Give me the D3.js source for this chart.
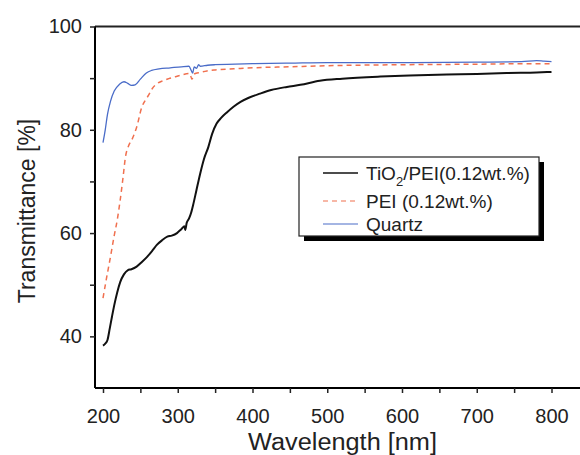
<!DOCTYPE html>
<html>
<head>
<meta charset="utf-8">
<script src="https://cdn.jsdelivr.net/npm/d3@7"></script>
<style>
  body { margin: 0; background: #fff; }
  text { font-family: "Liberation Sans", Arial, sans-serif; }
</style>
</head>
<body>
<script>
// wavelength [nm] / transmittance [%]
var tioWl = [200, 203, 206, 209, 212, 215, 219, 223, 228, 233, 238, 245, 252, 259, 266, 272, 279, 286, 292, 299, 305, 309, 310, 312, 315, 318, 321, 325, 330, 335, 341, 346, 352, 358, 366, 375, 384, 395, 410, 425, 446, 464, 490, 520, 571, 610, 660, 700, 740, 780, 800];
var tioT = [38.2, 38.6, 39.3, 41.5, 43.8, 46.0, 48.5, 50.5, 52.0, 52.8, 53.0, 53.5, 54.4, 55.4, 56.6, 57.7, 58.6, 59.3, 59.5, 60.0, 60.8, 61.3, 60.6, 62.0, 62.8, 64.0, 65.7, 68.3, 71.5, 74.3, 76.7, 79.2, 81.2, 82.3, 83.4, 84.5, 85.4, 86.2, 87.0, 87.7, 88.3, 88.7, 89.5, 89.9, 90.3, 90.5, 90.7, 90.8, 91.0, 91.1, 91.2];

var peiWl = [200, 205, 210, 215, 219, 223, 227, 230, 234, 239, 245, 252, 257, 261, 266, 272, 280, 288, 295, 305, 316, 319, 322, 330, 339, 350, 375, 400, 450, 500, 600, 700, 760, 800];
var peiT = [47.4, 51.5, 55.4, 59.5, 62.5, 66.4, 71.0, 74.7, 76.8, 78.2, 80.5, 84.4, 85.8, 86.7, 88.0, 88.9, 89.5, 89.9, 90.2, 90.6, 90.9, 89.8, 90.8, 91.1, 91.4, 91.6, 91.8, 92.0, 92.2, 92.4, 92.6, 92.7, 92.8, 92.8];

var quartzWl = [200, 203, 206, 210, 215, 222, 228, 233, 238, 243, 250, 258, 265, 275, 290, 305, 315, 318, 320, 322, 325, 328, 330, 340, 350, 400, 450, 500, 600, 700, 760, 780, 790, 800];
var quartzT = [77.5, 80.0, 83.0, 85.5, 87.5, 88.8, 89.3, 89.0, 88.6, 88.7, 89.8, 91.0, 91.5, 91.8, 92.0, 92.2, 92.3, 91.5, 91.0, 92.2, 91.9, 92.6, 92.3, 92.5, 92.6, 92.8, 92.9, 93.0, 93.0, 93.1, 93.2, 93.4, 93.3, 93.2];

var seriesNames = ["TiO2/PEI(0.12wt.%)", "PEI (0.12wt.%)", "Quartz"];
var xTicks = [200, 300, 400, 500, 600, 700, 800];
var yTicks = [40, 60, 80, 100];

var width = 580, height = 455;

var svg = d3.select("body").append("svg")
  .attr("width", width)
  .attr("height", height);

var x = d3.scaleLinear().domain([200, 800]).range([103, 551.5]);
var y = d3.scaleLinear().domain([30, 100]).range([388, 26.5]);

var series = [
  { wl: tioWl, t: tioT, color: "#111", w: 2, dash: null },
  { wl: peiWl, t: peiT, color: "#f0704f", w: 1.5, dash: "5,4" },
  { wl: quartzWl, t: quartzT, color: "#4a6cc8", w: 1.3, dash: null }
];

var line = d3.line()
  .x((d) => x(d[0]))
  .y((d) => y(d[1]))
  .curve(d3.curveMonotoneX);

// plot frame: top line
svg.append("line")
  .attr("x1", 95).attr("x2", width)
  .attr("y1", y(100)).attr("y2", y(100))
  .attr("stroke", "#222").attr("stroke-width", 2);

// draw in reverse so black is on top
series.slice().reverse().forEach((s) => {
  svg.append("path")
    .datum(s.wl.map((w, i) => [w, s.t[i]]))
    .attr("d", line)
    .attr("fill", "none")
    .attr("stroke", s.color)
    .attr("stroke-width", s.w)
    .attr("stroke-dasharray", s.dash);
});

// axes
var xAxis = svg.append("g")
  .attr("transform", "translate(0," + y(30) + ")")
  .call(d3.axisBottom(x).tickValues(d3.range(200, 851, 50)).tickSize(5).tickPadding(16)
    .tickFormat((d) => xTicks.includes(d) ? d : ""));
xAxis.select(".domain").attr("d", "M95,0H" + width).attr("stroke-width", 2);

var yAxis = svg.append("g")
  .attr("transform", "translate(95,0)")
  .call(d3.axisLeft(y).tickValues(d3.range(40, 101, 10)).tickSize(5).tickPadding(8)
    .tickFormat((d) => yTicks.includes(d) ? d : ""));
yAxis.select(".domain").attr("d", "M0," + y(100) + "V" + y(30)).attr("stroke-width", 2);

svg.selectAll(".tick line").attr("stroke", "#222").attr("stroke-width", 1.5);
svg.selectAll(".tick text")
  .attr("font-size", 20)
  .attr("fill", "#222");

svg.append("text")
  .attr("x", 248).attr("y", 450)
  .attr("font-size", 23)
  .attr("fill", "#222")
  .attr("textLength", 189)
  .attr("lengthAdjust", "spacingAndGlyphs")
  .text("Wavelength [nm]");

svg.append("text")
  .attr("transform", "translate(35,211) rotate(-90)")
  .attr("text-anchor", "middle")
  .attr("font-size", 23)
  .attr("fill", "#222")
  .text("Transmittance [%]");

// legend
var lg = svg.append("g").attr("transform", "translate(299,157)");
lg.append("rect")
  .attr("x", 5).attr("y", 5).attr("width", 240).attr("height", 79)
  .attr("fill", "#000");
lg.append("rect")
  .attr("width", 240).attr("height", 79)
  .attr("fill", "#fff").attr("stroke", "#222").attr("stroke-width", 1.2);

var rows = [16, 44, 67];
series.forEach((s, i) => {
  lg.append("line")
    .attr("x1", 24).attr("x2", 59)
    .attr("y1", rows[i]).attr("y2", rows[i])
    .attr("stroke", s.color)
    .attr("stroke-width", i === 0 ? 1.6 : 1.2)
    .attr("stroke-dasharray", s.dash);
  var t = lg.append("text")
    .attr("x", 67).attr("y", rows[i])
    .attr("dy", "0.35em")
    .attr("font-size", 19)
    .attr("fill", "#222");
  if (i === 0) {
    t.append("tspan").text("TiO");
    t.append("tspan").attr("font-size", 13).attr("dy", "0.45em").text("2");
    t.append("tspan").attr("dy", "-0.3em").text("/PEI(0.12wt.%)");
  } else {
    t.text(seriesNames[i]);
  }
});
</script>
</body>
</html>
